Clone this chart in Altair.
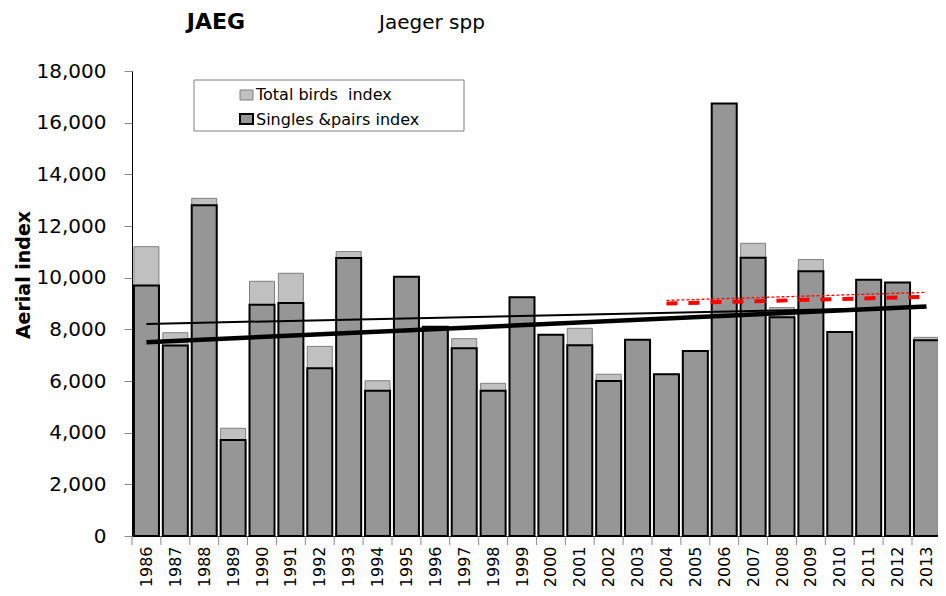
import altair as alt
import pandas as pd

# ---- data ----
years = [1986, 1987, 1988, 1989, 1990, 1991, 1992, 1993, 1994, 1995,
         1996, 1997, 1998, 1999, 2000, 2001, 2002, 2003, 2004, 2005,
         2006, 2007, 2008, 2009, 2010, 2011, 2012, 2013]
total_index = [11200, 7870, 13070, 4170, 9860, 10170, 7340, 11010, 6010, 10040,
               8100, 7640, 5910, 9240, 7790, 8040, 6260, 7600, 6260, 7160,
               16740, 11330, 8840, 10700, 7900, 9920, 9810, 7690]
singles_index = [9700, 7370, 12800, 3720, 8950, 9020, 6490, 10760, 5620, 10040,
                 8100, 7270, 5620, 9240, 7790, 7380, 6000, 7600, 6260, 7160,
                 16740, 10770, 8470, 10250, 7900, 9920, 9810, 7580]

trend_years = [1986, 2013]
total_trend = [8210, 8850]
singles_trend = [7500, 8880]
recent_years = [2004, 2013]
total_recent_trend = [9120, 9430]
singles_recent_trend = [9000, 9260]

y_ticks = [0, 2000, 4000, 6000, 8000, 10000, 12000, 14000, 16000, 18000]
legend_labels = ["Total birds\u00a0 index", "Singles &pairs index"]
title_code = "JAEG"
title_name = "Jaeger spp"
y_title = "Aerial index"

bars = pd.DataFrame({"year": years, "total": total_index, "singles": singles_index})
ticks_df = pd.DataFrame({"year": [y - 0.5 for y in years] + [years[-1] + 0.5]})
tr = pd.DataFrame({"year": trend_years, "total": total_trend, "singles": singles_trend})
rc = pd.DataFrame({"year": recent_years, "total": total_recent_trend, "singles": singles_recent_trend})

FONT = "DejaVu Sans"
W, H = 806, 465

xscale = alt.Scale(domain=[1985.5, 2013.4], nice=False, zero=False, padding=0)
yscale = alt.Scale(domain=[0, 18000], nice=False, zero=False, padding=0)

x_axis = alt.Axis(values=years, labelAngle=270, labelAlign="right", labelBaseline="middle",
                  ticks=False, labelPadding=10, labelFont=FONT, labelFontSize=16,
                  labelColor="black", labelFlush=False, labelOverlap=False, grid=False,
                  domainColor="black", domainWidth=1, format="d", title="")
y_axis = alt.Axis(values=y_ticks, format=",.0f", labelFont=FONT, labelFontSize=20,
                  labelColor="black", tickSize=8, tickColor="#888888", labelPadding=18,
                  labelOverlap=False, grid=False, domainColor="black", domainWidth=1, title="")


def X(field="year"):
    return alt.X(f"{field}:Q", scale=xscale, axis=x_axis)


def Y(field):
    return alt.Y(f"{field}:Q", scale=yscale, axis=y_axis)


base = alt.Chart(bars)
total_bars = base.mark_bar(width=25, color="#c0c0c0", stroke="#7f7f7f", strokeWidth=1, clip=True).encode(
    x=X(), y=Y("total"))
single_bars = base.mark_bar(width=25, color="#969696", stroke="black", strokeWidth=2, clip=True).encode(
    x=X(), y=Y("singles"))

xticks = alt.Chart(ticks_df).mark_rule(color="#888888", strokeWidth=1).encode(
    x=X(), y=alt.value(H), y2=alt.value(H + 9))

line_total = alt.Chart(tr).mark_line(color="black", strokeWidth=2).encode(x=X(), y=Y("total"))
line_single = alt.Chart(tr).mark_line(color="black", strokeWidth=4.5).encode(x=X(), y=Y("singles"))
red_total = alt.Chart(rc).mark_line(color="red", strokeWidth=1.3, strokeDash=[3, 2]).encode(
    x=X(), y=Y("total"))
red_single = alt.Chart(rc).mark_line(color="red", strokeWidth=4, strokeDash=[11, 11]).encode(
    x=X(), y=Y("singles"))

one = alt.Data(values=[{"a": 1}])


def txt(t, x, y, size, bold=False, align="left", angle=0, baseline="alphabetic"):
    kw = dict(text=t, font=FONT, fontSize=size, align=align, baseline=baseline, color="black")
    if bold:
        kw["fontWeight"] = "bold"
    if angle:
        kw["angle"] = angle
    return alt.Chart(one).mark_text(**kw).encode(x=alt.value(x), y=alt.value(y))


t1 = txt(title_code, 84, -42, 22, bold=True, align="center")
t2 = txt(title_name, 247, -42, 20)
t3 = txt(y_title, -108, 204, 19, bold=True, align="center", angle=270, baseline="middle")

leg_box = alt.Chart(one).mark_rect(fill="white", stroke="#808080", strokeWidth=1).encode(
    x=alt.value(62), x2=alt.value(332), y=alt.value(9), y2=alt.value(60))
sw1 = alt.Chart(one).mark_rect(fill="#c0c0c0", stroke="#808080", strokeWidth=1).encode(
    x=alt.value(108), x2=alt.value(121), y=alt.value(19), y2=alt.value(29))
sw2 = alt.Chart(one).mark_rect(fill="#969696", stroke="black", strokeWidth=2).encode(
    x=alt.value(108), x2=alt.value(121), y=alt.value(43), y2=alt.value(53))
lt1 = txt(legend_labels[0], 124, 24, 16, baseline="middle")
lt2 = txt(legend_labels[1], 124, 49, 16, baseline="middle")

chart = alt.layer(
    total_bars, single_bars, xticks, line_total, line_single, red_total, red_single,
    t1, t2, t3, leg_box, sw1, sw2, lt1, lt2
).properties(
    width=W, height=H,
    autosize=alt.AutoSizeParams(type="none"),
    padding={"left": 124, "top": 63, "right": 0, "bottom": 52},
).configure_view(strokeWidth=0)

chart.save("out.html", embed_options={"renderer": "svg", "actions": False})
